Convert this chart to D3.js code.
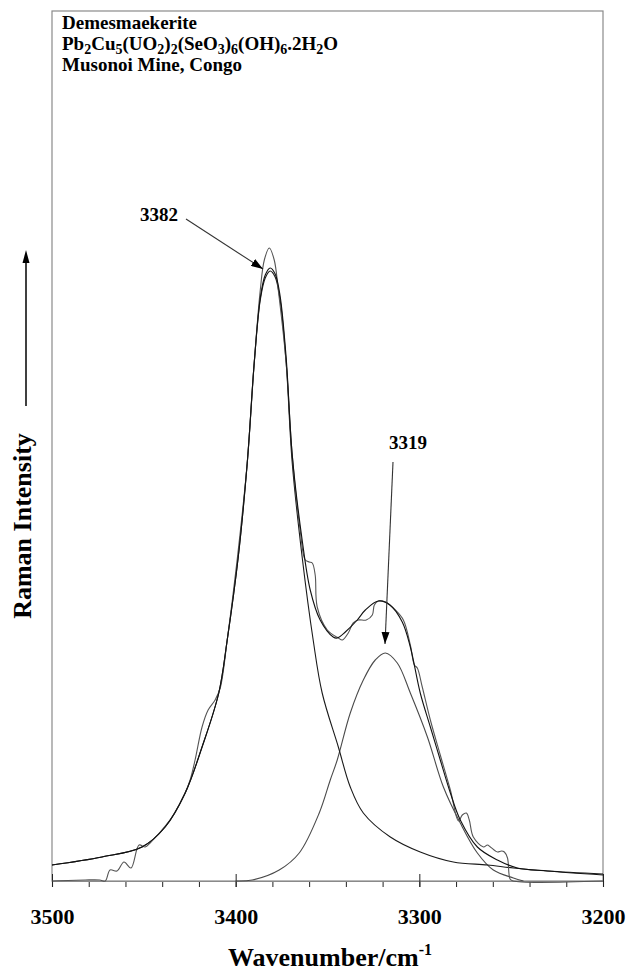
<!DOCTYPE html>
<html>
<head>
<meta charset="utf-8">
<script src="https://cdn.jsdelivr.net/npm/d3@7"></script>
<style>
  body { margin: 0; background: #fff; }
  text { font-family: "Liberation Serif", "Times New Roman", serif; font-weight: bold; fill: #000; }
</style>
</head>
<body>
<div id="chart"></div>
<script>
// wavenumber (cm-1), intensity (arbitrary units)
const observed = [
  [3500, 0], [3482, 1], [3474, 1], [3471, 0], [3468.4, 11], [3464.6, 10], [3460.8, 19],
  [3457.0, 13], [3452.6, 36], [3449.3, 34], [3446.6, 38], [3441.1, 49], [3434.6, 64],
  [3427.5, 88], [3424.8, 101], [3422.1, 121], [3418.3, 154], [3415.0, 171], [3411.2, 181],
  [3408.4, 193], [3404.6, 241], [3399.2, 321], [3393.7, 418], [3389.9, 518], [3386.6, 591],
  [3384.4, 621], [3381.7, 633], [3379.0, 621], [3376.8, 591], [3372.5, 518], [3369.2, 426],
  [3364.9, 351], [3362.1, 321], [3359.9, 319], [3358.3, 318], [3356.7, 306], [3355.6, 274],
  [3350.1, 251], [3344.1, 243], [3341.9, 241], [3338.7, 248], [3336.0, 258], [3333.2, 261],
  [3328.9, 261], [3325.6, 266], [3324.5, 276], [3322.3, 280], [3318.5, 279], [3313.1, 271],
  [3308.7, 261], [3304.9, 236], [3302.7, 216], [3301.1, 213], [3298.4, 194], [3294.0, 161],
  [3288.6, 126], [3283.1, 91], [3278.7, 60], [3276.6, 66], [3274.4, 68], [3272.8, 61],
  [3270.6, 44], [3265.1, 34], [3262.9, 36], [3261.3, 34], [3257.5, 29], [3255.3, 30],
  [3253.7, 29], [3252.0, 23], [3250.6, 2], [3249, 0], [3200, 0]
];

const fitted = [
  [3500, 16], [3472.8, 24], [3451, 34], [3438.4, 54], [3427.5, 88], [3418.3, 134],
  [3409.2, 188], [3404.6, 241], [3398.6, 324], [3393.7, 418], [3389.9, 518], [3386.6, 583],
  [3383.9, 606], [3381.2, 613], [3378.5, 607], [3375.8, 585], [3372.5, 523], [3369.2, 426],
  [3363.8, 341], [3359.4, 291], [3354.0, 261], [3346.9, 244], [3344.7, 243], [3340.3, 249],
  [3333.8, 261], [3329.4, 271], [3322.3, 280], [3316.0, 276], [3309.3, 259], [3304.9, 234],
  [3299.5, 188], [3294.0, 154], [3288.6, 121], [3283.1, 88], [3277.7, 61], [3268.4, 34],
  [3257.5, 21], [3246.6, 13], [3230.2, 10], [3200, 6]
];

const band3382 = [
  [3500, 16], [3472.8, 24], [3451, 34], [3438.4, 54], [3427.5, 88], [3418.3, 134],
  [3409.2, 188], [3404.6, 241], [3398.6, 324], [3393.7, 418], [3389.9, 518], [3386.6, 581],
  [3383.9, 603], [3381.2, 610], [3378.5, 604], [3375.8, 581], [3372.5, 518], [3369.2, 418],
  [3363.8, 324], [3357.8, 241], [3352.9, 188], [3344.1, 134], [3337.6, 94], [3330.5, 68],
  [3315.8, 44], [3299.5, 29], [3281.5, 19], [3262.9, 16], [3248.8, 13], [3230.2, 10],
  [3200, 7]
];

const band3319 = [
  [3400, 0], [3391.0, 1], [3376.3, 11], [3365.4, 28], [3354.5, 68], [3348.5, 101],
  [3344.7, 121], [3337.6, 168], [3330.5, 201], [3324.0, 221], [3318.5, 228], [3312.0, 218],
  [3304.9, 188], [3295.6, 144], [3286.9, 94], [3277.7, 58], [3268.4, 28], [3259.7, 11],
  [3248.8, 3], [3243.3, 0]
];

const majorTicks = [3500, 3400, 3300, 3200];
const minorTicks = d3.range(3500, 3199, -20);
const titleLines = ["Demesmaekerite", "Musonoi Mine, Congo"];
// formula split into [text, isSubscript]
const formulaParts = [
  ["Pb", false], ["2", true], ["Cu", false], ["5", true], ["(UO", false], ["2", true],
  [")", false], ["2", true], ["(SeO", false], ["3", true], [")", false], ["6", true],
  ["(OH)", false], ["6", true], [".2H", false], ["2", true], ["O", false]
];
const peakLabels = ["3382", "3319"];

function getConfig() {
  let width = 631;
  let height = 978;
  let margin = {top: 11, left: 52, right: 28, bottom: 97};
  let bodyWidth = width - margin.left - margin.right;
  let bodyHeight = height - margin.top - margin.bottom;
  let container = d3.select("#chart").append("svg")
    .attr("width", width)
    .attr("height", height);
  return {width, height, margin, bodyWidth, bodyHeight, container};
}

function getScales(config) {
  let {bodyWidth, bodyHeight} = config;
  let xScale = d3.scaleLinear()
    .domain([3500, 3200])
    .range([0, bodyWidth]);
  let yScale = d3.scaleLinear()
    .domain([0, 870])
    .range([bodyHeight, 0]);
  return {xScale, yScale};
}

function drawAxes(config, scales) {
  let {container, margin, bodyWidth, bodyHeight} = config;
  let {xScale} = scales;

  // frame
  container.append("rect")
    .attr("x", margin.left)
    .attr("y", margin.top)
    .attr("width", bodyWidth)
    .attr("height", bodyHeight)
    .attr("fill", "none")
    .attr("stroke", "#8a8a8a")
    .attr("stroke-width", 1.2);

  // minor ticks
  let minor = container.append("g")
    .attr("transform", "translate(" + margin.left + "," + (margin.top + bodyHeight) + ")")
    .call(d3.axisBottom(xScale).tickValues(minorTicks).tickSize(6).tickFormat(""));
  minor.select(".domain").remove();
  minor.selectAll(".tick line").attr("stroke", "#222");

  // major ticks + labels
  let major = container.append("g")
    .attr("transform", "translate(" + margin.left + "," + (margin.top + bodyHeight) + ")")
    .call(d3.axisBottom(xScale).tickValues(majorTicks).tickSize(6).tickFormat(d3.format("d")))
    .attr("font-family", null)
    .attr("font-size", null);
  major.select(".domain").attr("stroke", "#8a8a8a").attr("stroke-width", 1.2);
  major.selectAll(".tick line").attr("y1", -7).attr("stroke", "#222");
  major.selectAll(".tick text")
    .attr("y", 43)
    .attr("dy", null)
    .style("font-size", "22px")
    .attr("fill", "#000");

  // x axis title
  let xt = container.append("text")
    .attr("x", 330)
    .attr("y", 966)
    .attr("text-anchor", "middle")
    .style("font-size", "26px");
  xt.append("tspan").text("Wavenumber/cm");
  xt.append("tspan").attr("dy", -11).style("font-size", "16px").text("-1");

  // y axis title with arrow
  container.append("text")
    .attr("transform", "translate(31,526) rotate(-90)")
    .attr("text-anchor", "middle")
    .style("font-size", "26px")
    .text("Raman Intensity");
  container.append("line")
    .attr("x1", 26).attr("x2", 26)
    .attr("y1", 406).attr("y2", 262)
    .attr("stroke", "#000").attr("stroke-width", 1.5);
  container.append("path")
    .attr("d", "M26,250 L22.5,263 L29.5,263 Z")
    .attr("fill", "#000");
}

function drawCurves(config, scales) {
  let {container, margin} = config;
  let {xScale, yScale} = scales;
  let body = container.append("g")
    .attr("transform", "translate(" + margin.left + "," + margin.top + ")");

  let line = d3.line()
    .x(d => xScale(d[0]))
    .y(d => yScale(d[1]))
    .curve(d3.curveCatmullRom.alpha(0.5));

  let series = [
    {data: band3319, color: "#4a4a4a"},
    {data: band3382, color: "#1a1a1a"},
    {data: observed, color: "#555"},
    {data: fitted, color: "#111"}
  ];

  body.selectAll("path.curve")
    .data(series)
    .enter()
    .append("path")
    .attr("class", "curve")
    .attr("d", d => line(d.data))
    .attr("fill", "none")
    .attr("stroke", d => d.color)
    .attr("stroke-width", 1.1);
}

function drawLabels(config) {
  let {container} = config;

  // sample name and formula
  let g = container.append("g").style("font-size", "19px");
  g.append("text").attr("x", 62).attr("y", 29).text(titleLines[0]);
  let f = g.append("text").attr("x", 62).attr("y", 50);
  let lowered = false;
  formulaParts.forEach(p => {
    let t = f.append("tspan").text(p[0]);
    if (p[1]) {
      t.style("font-size", "14px").attr("dy", lowered ? 0 : 4);
      lowered = true;
    } else {
      t.attr("dy", lowered ? -4 : 0);
      lowered = false;
    }
  });
  g.append("text").attr("x", 62).attr("y", 71).text(titleLines[1]);

  // peak annotations
  let defs = container.append("defs");
  defs.append("marker")
    .attr("id", "head")
    .attr("viewBox", "0 0 12 8")
    .attr("refX", 12).attr("refY", 4)
    .attr("markerWidth", 12).attr("markerHeight", 8)
    .attr("markerUnits", "userSpaceOnUse")
    .attr("orient", "auto")
    .append("path")
    .attr("d", "M0,0 L12,4 L0,8 Z")
    .attr("fill", "#000");

  let ann = [
    {text: peakLabels[0], tx: 159, ty: 221, x1: 186, y1: 219, x2: 263, y2: 269},
    {text: peakLabels[1], tx: 408, ty: 449, x1: 393, y1: 462, x2: 385, y2: 644}
  ];
  container.selectAll("text.peak")
    .data(ann)
    .enter()
    .append("text")
    .attr("class", "peak")
    .attr("x", d => d.tx)
    .attr("y", d => d.ty)
    .attr("text-anchor", "middle")
    .style("font-size", "19px")
    .text(d => d.text);
  container.selectAll("line.peak")
    .data(ann)
    .enter()
    .append("line")
    .attr("class", "peak")
    .attr("x1", d => d.x1).attr("y1", d => d.y1)
    .attr("x2", d => d.x2).attr("y2", d => d.y2)
    .attr("stroke", "#333")
    .attr("stroke-width", 1.1)
    .attr("marker-end", "url(#head)");
}

let config = getConfig();
let scales = getScales(config);
drawAxes(config, scales);
drawCurves(config, scales);
drawLabels(config);
</script>
</body>
</html>
